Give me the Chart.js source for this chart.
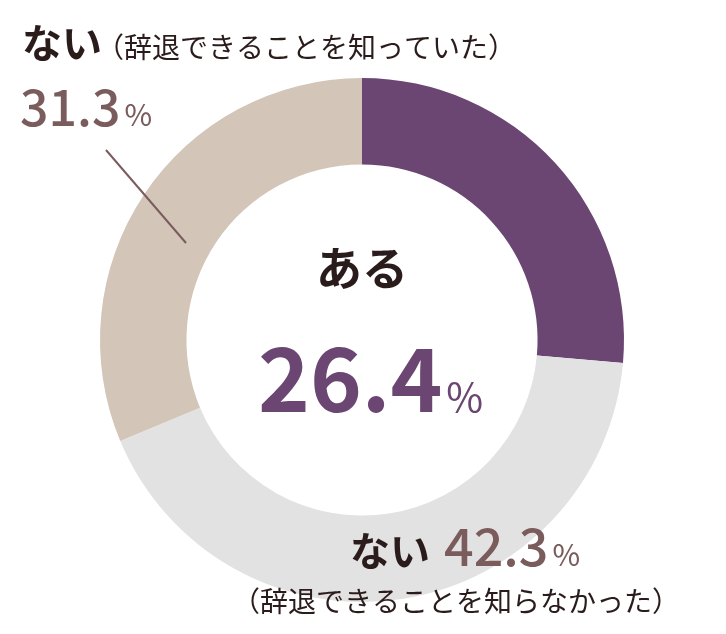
<!DOCTYPE html>
<html><head><meta charset="utf-8">
<script src="https://cdn.jsdelivr.net/npm/chart.js@4"></script>
<style>body{margin:0;background:#fff}#wrap{width:726px;height:634px;position:relative}</style>
</head><body><div id="wrap"><canvas id="c" width="726" height="634"></canvas></div>
<script>
const categories = ["ある", "ない（辞退できることを知らなかった）", "ない（辞退できることを知っていた）"];
const values = [26.4, 42.3, 31.3];
const colors = ["#6b4672", "#e3e2e2", "#d3c6b9"];

const F = '"Noto Sans CJK JP", "Noto Sans", sans-serif';
function txt(ctx, parts, x, y){
  // parts: [text, size, color, weight, gap]
  let cx = x;
  for(const p of parts){
    ctx.font = (p[3]||"normal") + " " + p[1] + "px " + F;
    ctx.fillStyle = p[2];
    ctx.fillText(p[0], cx, y);
    cx += ctx.measureText(p[0]).width + (p[4]||0);
  }
}
const labels = {
  id: "labels",
  afterDraw(chart){
    const ctx = chart.ctx;
    ctx.save();
    ctx.textBaseline = "alphabetic";
    const dark = "#2b1c1c", mid = "#7a5c5c";
    // top-left
    txt(ctx, [["ない", 40, dark, "bold", -6], ["（辞退できることを知っていた）", 28, dark, "normal"]], 22, 58);
    txt(ctx, [[values[2].toFixed(1), 50, mid, "500", 4], ["%", 30, mid, "normal"]], 20, 126);
    ctx.strokeStyle = "#7a5c5c"; ctx.lineWidth = 2;
    ctx.beginPath(); ctx.moveTo(106, 150); ctx.lineTo(186, 243); ctx.stroke();
    // center
    txt(ctx, [["ある", 46, dark, "bold"]], 316, 285);
    txt(ctx, [[values[0].toFixed(1), 88, "#6b4672", "bold", 4], ["%", 40, "#6b4672", "normal"]], 258, 412);
    // bottom-right
    txt(ctx, [["ない", 40, dark, "bold", 14], [values[1].toFixed(1), 52, mid, "500", 4], ["%", 30, mid, "normal"]], 350, 566);
    txt(ctx, [["（辞退できることを知らなかった）", 28, dark, "normal"]], 232, 612);
    ctx.restore();
  }
};
new Chart(document.getElementById("c"), {
  type: "doughnut",
  data: { labels: categories, datasets: [{ data: values, backgroundColor: colors, borderWidth: 0 }] },
  options: {
    responsive: false, animation: false, cutout: "67%",
    layout: { padding: { left: 100, right: 102, top: 78, bottom: 32 } },
    plugins: { legend: { display: false }, tooltip: { enabled: false } }
  },
  plugins: [labels]
});
</script></body></html>
